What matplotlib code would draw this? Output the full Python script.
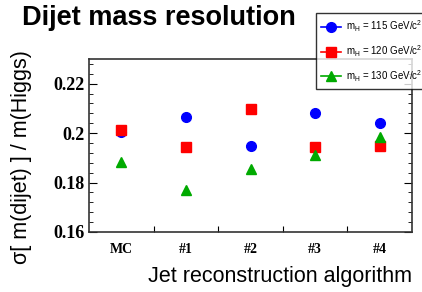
import numpy as np
import matplotlib
matplotlib.use("Agg")
import matplotlib.pyplot as plt
from matplotlib.ticker import MultipleLocator

# --- dados ---
algoritmos = ["MC", "#1", "#2", "#3", "#4"]
res_115 = [0.2003, 0.2064, 0.1949, 0.2082, 0.2040]
res_120 = [0.2013, 0.1943, 0.2098, 0.1944, 0.1949]
res_130 = [0.1884, 0.1769, 0.1854, 0.1912, 0.1984]
legendas = [r"m$_\mathregular{H}$ = 115 GeV/c$^\mathregular{2}$",
            r"m$_\mathregular{H}$ = 120 GeV/c$^\mathregular{2}$",
            r"m$_\mathregular{H}$ = 130 GeV/c$^\mathregular{2}$"]

plt.rcParams['font.family'] = ['Liberation Sans', 'DejaVu Sans']

fig = plt.figure(figsize=(4.22, 2.92), dpi=100)
ax = fig.add_axes([89/422, 1 - 232/292, (412 - 89)/422, (232 - 59)/292])

x = np.arange(len(algoritmos)) + 0.5
ax.plot(x, res_115, 'o', color='#0000ff', ms=7)
ax.plot(x, res_120, 's', color='#ff0000', ms=7)
ax.plot(x, res_130, '^', color='#00aa00', ms=7)

ax.set_xlim(0, 5)
ax.set_ylim(0.16, 0.23)
ax.set_xticks(np.arange(1, 5))
ax.set_xticklabels([])
ax.set_xticks(x, minor=True)
ax.set_xticklabels(algoritmos, minor=True, family='Liberation Serif',
                   fontweight='bold', fontsize=10)
ax.tick_params(axis='x', which='minor', length=0, pad=8)
ax.tick_params(axis='x', which='major', direction='in', length=4, top=False)
ax.set_yticks([0.16, 0.18, 0.2, 0.22])
ax.set_yticklabels(["0.16", "0.18", "0.2", "0.22"], family='Liberation Serif',
                   fontweight='bold', fontsize=13)
ax.yaxis.set_minor_locator(MultipleLocator(0.004))
ax.tick_params(axis='y', which='both', direction='in', right=True)
ax.tick_params(axis='y', which='major', length=6)
ax.tick_params(axis='y', which='minor', length=3)
for s in ax.spines.values():
    s.set_linewidth(1.2)
    s.set_color('#333333')

fig.text(22/422, 1 - 157/292, "σ[ m(dijet) ] / m(Higgs)", fontsize=15.5,
         rotation=90, ha='center', va='center')
ax.set_xlabel("Jet reconstruction algorithm", fontsize=15.5, labelpad=7, x=1.0, ha='right')

fig.text(22/422, 1 - 18/292, "Dijet mass resolution", fontsize=19.5, fontweight='bold', va='center')

# legenda com linha + marcador
hl = [plt.Line2D([], [], color=c, marker=m, ms=7, lw=1.2)
      for c, m in [('#0000ff', 'o'), ('#ff0000', 's'), ('#00aa00', '^')]]
leg = fig.legend(hl, legendas, loc='upper left', bbox_to_anchor=(316/422, 1 - 13/292),
                 fontsize=7, frameon=True, fancybox=False, edgecolor='black',
                 handlelength=2.0, handletextpad=0.5, labelspacing=0.95,
                 borderaxespad=0, borderpad=0.55)
leg.get_frame().set_linewidth(1.0)

fig.savefig("out.png", dpi=100)
